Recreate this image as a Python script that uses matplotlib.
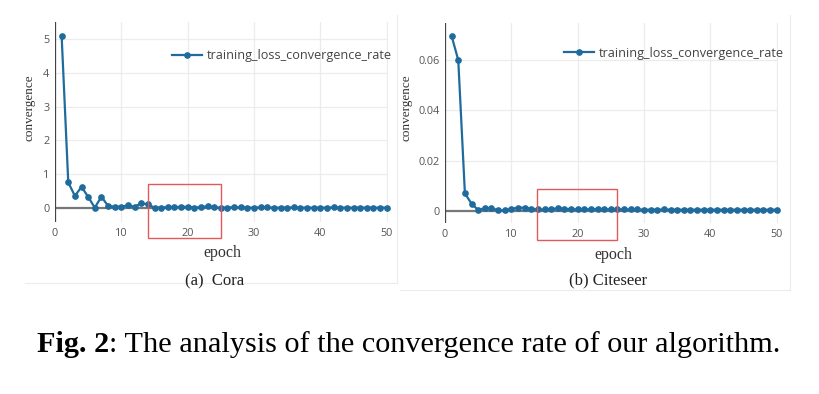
import matplotlib
matplotlib.use("Agg")
import matplotlib.pyplot as plt
from matplotlib.patches import Rectangle
from matplotlib.lines import Line2D

epochs = list(range(1, 51))
cora = [5.1, 0.75, 0.35, 0.62, 0.32, 0.0, 0.33, 0.05, 0.03, 0.03,
        0.07, 0.03, 0.13, 0.10, 0.0, 0.0, 0.02, 0.02, 0.02, 0.03,
        0.0, 0.02, 0.04, 0.01, 0.0, 0.0, 0.02, 0.01, 0.0, 0.0,
        0.01, 0.01, 0.0, 0.0, 0.0, 0.01, 0.0, 0.0, 0.0, 0.0,
        0.0, 0.01, 0.0, 0.0, 0.0, 0.0, 0.0, 0.0, 0.0, 0.0]
citeseer = [0.0696, 0.0600, 0.0069, 0.0028, 0.0003, 0.0010, 0.0010, 0.0002, 0.0001, 0.0007,
            0.0012, 0.0012, 0.0008, 0.0005, 0.0005, 0.0007, 0.0009, 0.0008, 0.0006, 0.0005,
            0.0005, 0.0006, 0.0007, 0.0006, 0.0005, 0.0005, 0.0005, 0.0005, 0.0005, 0.0004,
            0.0004, 0.0004, 0.0005, 0.0004, 0.0004, 0.0004, 0.0004, 0.0004, 0.0004, 0.0004,
            0.0004, 0.0004, 0.0004, 0.0004, 0.0004, 0.0004, 0.0004, 0.0004, 0.0004, 0.0004]
series_name = "training_loss_convergence_rate"
x_ticks = [0, 10, 20, 30, 40, 50]
cora_yticks = [0, 1, 2, 3, 4, 5]
cite_yticks = [0, 0.02, 0.04, 0.06]
cite_yticklabels = ["0", "0.02", "0.04", "0.06"]
subcaptions = ["(a)  Cora", "(b) Citeseer"]
caption_bold = "Fig. 2"
caption_rest = ": The analysis of the convergence rate of our algorithm."

W, H = 820, 394
fig = plt.figure(figsize=(W / 100, H / 100), dpi=100)
fig.patch.set_facecolor("white")

LINE = "#1f6b9e"
SANS = ["Open Sans", "DejaVu Sans"]
SERIF = ["Liberation Serif", "DejaVu Serif"]


def fx(px):
    return px / W


def fy(py):
    return 1 - py / H


def make_axes(left, right, top, bottom, ylim, yticks, yticklabels, data, rect, legend_pos):
    ax = fig.add_axes([fx(left), fy(bottom), fx(right - left), (bottom - top) / H])
    ax.set_xlim(0, 50.2)
    ax.set_ylim(*ylim)
    for s in ax.spines.values():
        s.set_visible(False)
    ax.set_xticks(x_ticks)
    ax.set_yticks(yticks)
    ax.set_yticklabels(yticklabels)
    ax.tick_params(length=0, labelsize=7.8, colors="#555555", pad=4)
    for lab in ax.get_xticklabels() + ax.get_yticklabels():
        lab.set_family(SANS)
    ax.grid(True, color="#ececec", linewidth=0.9)
    ax.set_axisbelow(True)
    ax.axhline(0, color="#777777", linewidth=1.6, zorder=1)
    ax.axvline(0, color="#444444", linewidth=1.6, zorder=1)
    ax.plot(epochs, data, color=LINE, linewidth=1.6, marker="o", markersize=3.8,
            label=series_name, zorder=3, clip_on=False)
    ax.add_patch(Rectangle((rect[0], rect[1]), rect[2], rect[3], fill=False,
                           edgecolor="#e05a5a", linewidth=1.0, clip_on=False, zorder=4))
    leg = ax.legend(loc="center right", bbox_to_anchor=(fx(legend_pos[0]), fy(legend_pos[1])),
                    bbox_transform=fig.transFigure, frameon=False, borderpad=0,
                    borderaxespad=0, handlelength=2.4, handletextpad=0.4,
                    prop={"family": SANS, "size": 9.1})
    for t in leg.get_texts():
        t.set_color("#444444")
    return ax


ax1 = make_axes(55, 388, 22, 222, (-0.424, 5.51), cora_yticks,
                [str(v) for v in cora_yticks], cora,
                (14.0, -0.9, 11.0, 1.6), (392, 56))
ax2 = make_axes(445, 778, 23, 223, (-0.0049, 0.0748), cite_yticks,
                cite_yticklabels, citeseer,
                (13.8, -0.0117, 12.2, 0.0203), (784, 53))

# axis titles and sub-captions
fig.text(fx(30), fy(108), "convergence", rotation=90, ha="center", va="center",
         family=SERIF, fontsize=9.5, color="#333333")
fig.text(fx(407), fy(108), "convergence", rotation=90, ha="center", va="center",
         family=SERIF, fontsize=9.5, color="#333333")
fig.text(fx(222), fy(253), "epoch", ha="center", va="center",
         family=SERIF, fontsize=11.5, color="#333333")
fig.text(fx(613), fy(255), "epoch", ha="center", va="center",
         family=SERIF, fontsize=11.5, color="#333333")
fig.text(fx(215), fy(281), subcaptions[0], ha="center", va="center",
         family=SERIF, fontsize=12, color="#222222")
fig.text(fx(608), fy(280), subcaptions[1], ha="center", va="center",
         family=SERIF, fontsize=12, color="#222222")

# faint screenshot borders
for (x0, y0, x1, y1) in [(25, 283, 397, 283), (397, 15, 397, 283),
                         (400, 290, 790, 290), (790, 15, 790, 290)]:
    fig.add_artist(Line2D([fx(x0), fx(x1)], [fy(y0), fy(y1)], color="#ececec",
                          linewidth=0.8, transform=fig.transFigure))

# main caption (bold part + regular part)
renderer = fig.canvas.get_renderer()
t1 = fig.text(fx(37), fy(345), caption_bold, ha="left", va="center",
              family=SERIF, fontsize=21.8, fontweight="bold", color="black")
bb = t1.get_window_extent(renderer=renderer)
t2 = fig.text(bb.x1 / W, fy(345), caption_rest, ha="left", va="center",
              family=SERIF, fontsize=21.8, color="black")

fig.savefig("out.png", dpi=100, facecolor="white")
